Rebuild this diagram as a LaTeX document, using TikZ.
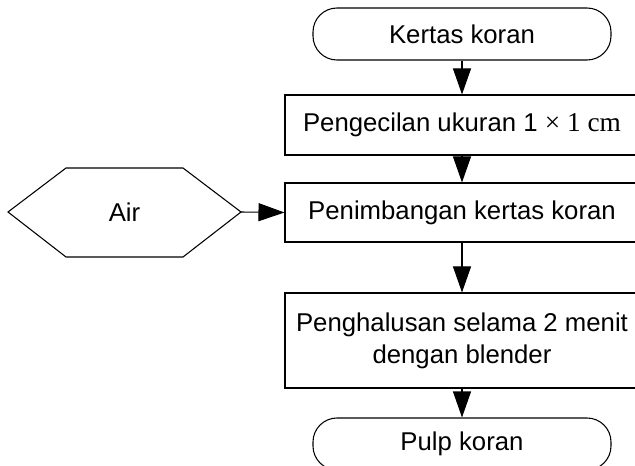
\documentclass[tikz,border=0pt]{standalone}
\usepackage{fontspec}
\setmainfont{Liberation Sans}
\newfontfamily\serifpart{Liberation Serif}
\usetikzlibrary{arrows.meta}
\tikzset{
  px/.style={x=0.75pt,y=-0.75pt},
  txt/.style={font=\fontsize{19.3pt}{24pt}\selectfont, align=center},
  procbox/.style={txt, draw=black, line width=0.8pt, inner sep=0pt, minimum width=265.5pt},
  term/.style={txt, draw=black, line width=0.8pt, inner sep=0pt, minimum width=223.5pt, minimum height=39pt, rounded corners=18pt},
  flow/.style={line width=0.8pt, -{Triangle[length=19.5pt,width=13.5pt]}}
}
\begin{document}
\begin{tikzpicture}[px]
\useasboundingbox (0,0) rectangle (635,466);
\clip (0,0) rectangle (635,466);
\node[term] (k) at (462,34) {Kertas koran};
\node[procbox, minimum height=45pt] (b1) at (462,125) {Pengecilan ukuran 1 {\serifpart\fontsize{20.5pt}{24pt}\selectfont × 1 cm}};
\node[procbox, minimum height=44.25pt] (b2) at (462,212.5) {Penimbangan kertas koran};
\node[procbox, minimum height=71.25pt] (b3) at (462,340.5) {Penghalusan selama 2 menit\\dengan blender};
\node[term] (p) at (462,444) {Pulp koran};
% hexagon
\coordinate (hl) at (8,212);
\coordinate (htl) at (66,168);
\coordinate (htr) at (183,168);
\coordinate (hr) at (241,212);
\coordinate (hbr) at (183,257);
\coordinate (hbl) at (66,257);
\draw[line width=0.8pt] (hl) -- (htl) -- (htr) -- (hr) -- (hbr) -- (hbl) -- cycle;
\node[txt] (air) at (124.5,212) {Air};
\draw[flow] (k) -- (b1);
\draw[flow] (b1) -- (b2);
\draw[flow] (b2) -- (b3);
\draw[flow] (b3) -- (p);
\draw[flow] (hr) -- (b2.west);
\end{tikzpicture}
\end{document}
